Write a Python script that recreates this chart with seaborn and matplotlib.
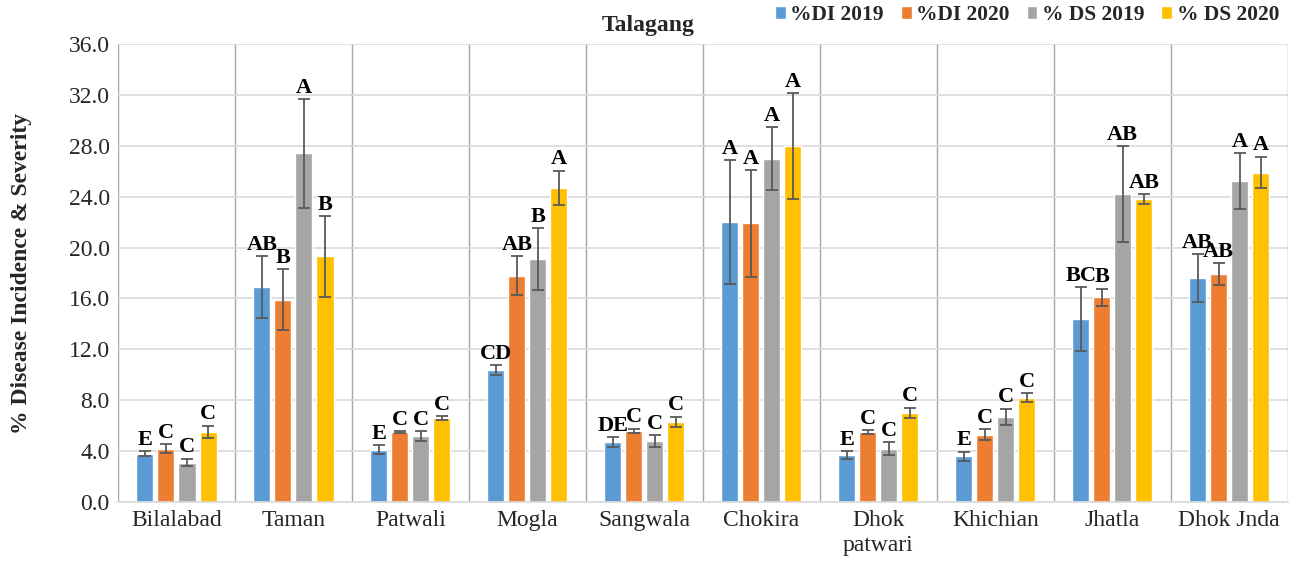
import numpy as np
import pandas as pd
import matplotlib
matplotlib.use("Agg")
import matplotlib.pyplot as plt
import seaborn as sns

sites = ["Bilalabad", "Taman", "Patwali", "Mogla", "Sangwala", "Chokira",
         "Dhok\npatwari", "Khichian", "Jhatla", "Dhok Jnda"]
series = ["%DI 2019", "%DI 2020", "% DS 2019", "% DS 2020"]

di_2019 = [3.8, 16.9, 4.1, 10.4, 4.7, 22.0, 3.7, 3.6, 14.4, 17.6]
di_2020 = [4.2, 15.9, 5.5, 17.8, 5.6, 21.9, 5.5, 5.3, 16.1, 17.9]
ds_2019 = [3.1, 27.4, 5.2, 19.1, 4.8, 27.0, 4.2, 6.7, 24.2, 25.2]
ds_2020 = [5.5, 19.3, 6.6, 24.7, 6.3, 28.0, 7.0, 8.2, 23.8, 25.9]

err_di_2019 = [0.2, 2.4, 0.35, 0.38, 0.37, 4.9, 0.32, 0.35, 2.5, 1.9]
err_di_2020 = [0.35, 2.4, 0.05, 1.5, 0.17, 4.2, 0.12, 0.4, 0.67, 0.85]
err_ds_2019 = [0.3, 4.25, 0.37, 2.4, 0.45, 2.45, 0.52, 0.63, 3.75, 2.2]
err_ds_2020 = [0.5, 3.2, 0.15, 1.35, 0.4, 4.15, 0.42, 0.35, 0.4, 1.25]

lab_di_2019 = ["E", "AB", "E", "CD", "DE", "A", "E", "E", "BC", "AB"]
lab_di_2020 = ["C", "B", "C", "AB", "C", "A", "C", "C", "B", "AB"]
lab_ds_2019 = ["C", "A", "C", "B", "C", "A", "C", "C", "AB", "A"]
lab_ds_2020 = ["C", "B", "C", "A", "C", "A", "C", "C", "AB", "A"]

colors = ["#5B9BD5", "#ED7D31", "#A5A5A5", "#FFC000"]

vals = [di_2019, di_2020, ds_2019, ds_2020]
errs = [err_di_2019, err_di_2020, err_ds_2019, err_ds_2020]
labs = [lab_di_2019, lab_di_2020, lab_ds_2019, lab_ds_2020]

df = pd.DataFrame({
    "site": np.tile(sites, 4),
    "series": np.repeat(series, len(sites)),
    "value": np.concatenate(vals),
})

sns.set_style("white")
plt.rcParams["font.family"] = ["Liberation Serif", "DejaVu Serif"]

fig = plt.figure(figsize=(13.02, 5.72), dpi=100)
ax = fig.add_axes([0.0906, 0.1224, 0.8984, 0.8006])

sns.barplot(data=df, x="site", y="value", hue="series", palette=colors,
            width=0.72, gap=0.19, ax=ax, legend=True, saturation=1)

# error bars and letter labels
for i, s in enumerate(series):
    cont = ax.containers[i]
    for j, bar in enumerate(cont):
        x = bar.get_x() + bar.get_width() / 2
        h = bar.get_height()
        e = errs[i][j]
        ax.errorbar(x, h, yerr=e, fmt="none", ecolor="#595959",
                    elinewidth=1.3, capsize=4, capthick=1.3, zorder=3)
        ax.text(x, h + e + 0.1, labs[i][j], ha="center", va="bottom",
                fontsize=16, fontweight="bold", color="black")

ax.set_ylim(0, 36)
ax.set_xlim(-0.5, len(sites) - 0.5)
ax.set_yticks(np.arange(0, 36.1, 4))
ax.set_yticklabels([f"{v:.1f}" for v in np.arange(0, 36.1, 4)], fontsize=17)
ax.tick_params(axis="x", labelsize=17, length=0, pad=6)
ax.tick_params(axis="y", length=0, pad=6)
ax.yaxis.grid(True, color="#D9D9D9", linewidth=1.2)
for k in range(len(sites) + 1):
    ax.axvline(k - 0.5, color="#A6A6A6", linewidth=1.0, zorder=0)
ax.set_axisbelow(True)
for sp in ["top", "right", "left"]:
    ax.spines[sp].set_visible(False)
ax.spines["bottom"].set_color("#D9D9D9")
ax.spines["bottom"].set_linewidth(1.2)

ax.set_xlabel("")
ax.set_ylabel("% Disease Incidence & Severity", fontsize=17, fontweight="bold",
              labelpad=26)

fig.text(0.498, 0.955, "Talagang", ha="center", va="center",
         fontsize=17, fontweight="bold")

ax.legend(loc="center right", bbox_to_anchor=(1.0, 1.063), ncol=4,
          frameon=False, prop={"weight": "bold", "size": 15.5},
          handlelength=0.5, handleheight=0.5, handletextpad=0.2,
          columnspacing=0.8, borderaxespad=0)

fig.savefig("out.png", dpi=100)
